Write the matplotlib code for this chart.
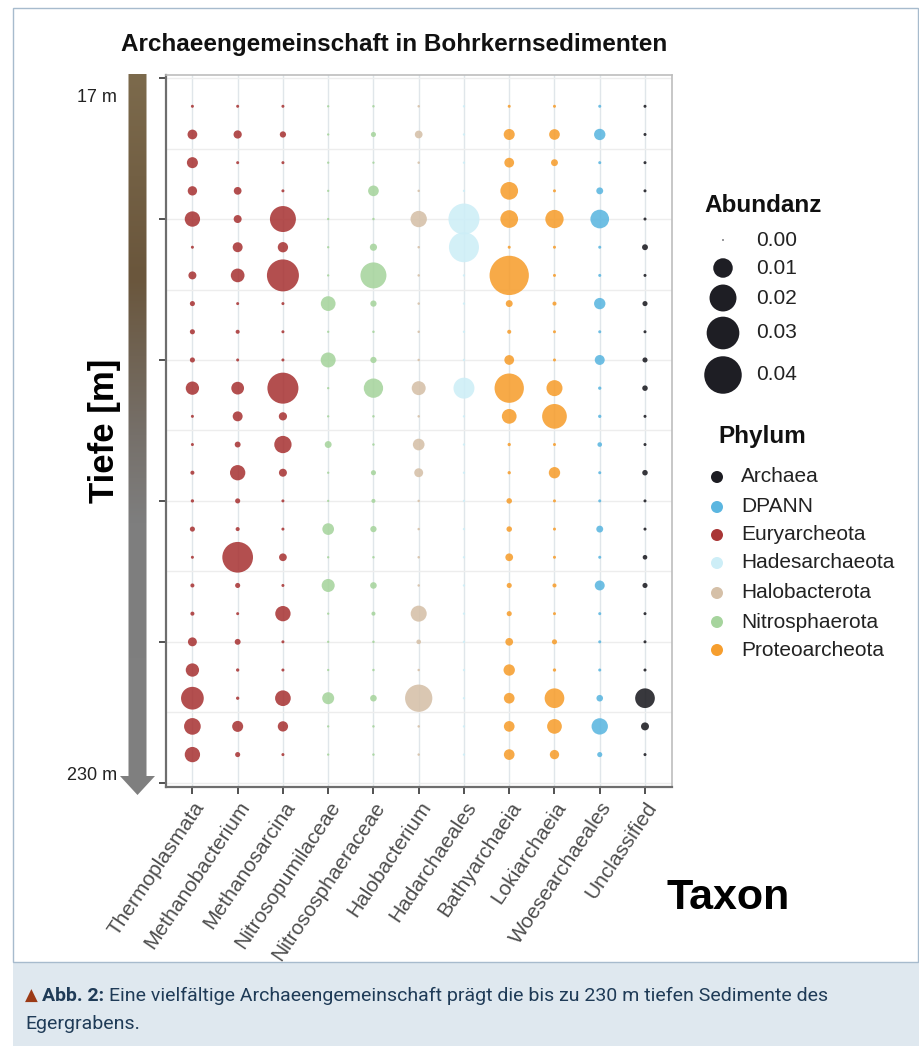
import numpy as np
import matplotlib
matplotlib.use("Agg")
import matplotlib.pyplot as plt
from matplotlib.colors import LinearSegmentedColormap
from matplotlib.patches import Polygon, Rectangle

# ---------------- data ----------------
taxa = ["Thermoplasmata", "Methanobacterium", "Methanosarcina", "Nitrosopumilaceae",
        "Nitrososphaeraceae", "Halobacterium", "Hadarchaeales", "Bathyarchaeia",
        "Lokiarchaeia", "Woesearchaeales", "Unclassified"]
taxon_phylum = ["Euryarcheota", "Euryarcheota", "Euryarcheota", "Nitrosphaerota",
                "Nitrosphaerota", "Halobacterota", "Hadesarchaeota", "Proteoarcheota",
                "Proteoarcheota", "DPANN", "Archaea"]
phyla = ["Archaea", "DPANN", "Euryarcheota", "Hadesarchaeota", "Halobacterota",
         "Nitrosphaerota", "Proteoarcheota"]
phylum_colors = ["#1C1C22", "#5BB6E0", "#A93636", "#CDEEF7", "#D5C0A8", "#A6D49D", "#F69E2E"]

# sample index (1 = 17 m ... 24 = 230 m)
samples = list(range(1, 25))

thermoplasmata = [0.00007, 0.0021, 0.0028, 0.0019, 0.0059, 0.00007, 0.0013, 0.0004,
                  0.0004, 0.0004, 0.0043, 0.00007, 0.00007, 0.0002, 0.0001, 0.0004,
                  0.00007, 0.0002, 0.0002, 0.0017, 0.0043, 0.0139, 0.0071, 0.0059]
methanobacterium = [0.00007, 0.0014, 0.00007, 0.0012, 0.0013, 0.0022, 0.0046, 0.00007,
                    0.0002, 0.00007, 0.0039, 0.0022, 0.0006, 0.0059, 0.0004, 0.0002,
                    0.0263, 0.0004, 0.00007, 0.0006, 0.0001, 0.0001, 0.0028, 0.0004]
methanosarcina = [0.00007, 0.0007, 0.00007, 0.00007, 0.0185, 0.0024, 0.0287, 0.00007,
                  0.00007, 0.00007, 0.0269, 0.0014, 0.0077, 0.0013, 0.00007, 0.00007,
                  0.0012, 0.00007, 0.0059, 0.00007, 0.00007, 0.0062, 0.0024, 0.00007]
nitrosopumilaceae = [0.00002, 0.00002, 0.00002, 0.00002, 0.00002, 0.00002, 0.00002, 0.0054,
                     0.00002, 0.0056, 0.00002, 0.00002, 0.0009, 0.00002, 0.00002, 0.0032,
                     0.00002, 0.0041, 0.00002, 0.00002, 0.00002, 0.0034, 0.00002, 0.00002]
nitrososphaeraceae = [0.00003, 0.0004, 0.00002, 0.0026, 0.00003, 0.0010, 0.0185, 0.0007,
                      0.00003, 0.0007, 0.0098, 0.00003, 0.00003, 0.0004, 0.0002, 0.0007,
                      0.00003, 0.0008, 0.0002, 0.00003, 0.00003, 0.0008, 0.00003, 0.00003]
halobacterium = [0.00003, 0.0012, 0.00003, 0.00003, 0.0068, 0.00003, 0.00003, 0.00003,
                 0.00003, 0.00003, 0.0048, 0.00003, 0.0032, 0.0017, 0.00003, 0.00003,
                 0.00003, 0.00003, 0.0065, 0.0003, 0.00003, 0.0205, 0.00003, 0.00003]
hadarchaeales = [0.00002, 0.00002, 0.00002, 0.00002, 0.0269, 0.0251, 0.00002, 0.00002,
                 0.00002, 0.00002, 0.0117, 0.00002, 0.00002, 0.00002, 0.00002, 0.00002,
                 0.00002, 0.00002, 0.00002, 0.00002, 0.00002, 0.00002, 0.00002, 0.00002]
bathyarchaeia = [0.00007, 0.0028, 0.0021, 0.0081, 0.0081, 0.00007, 0.0441, 0.0009,
                 0.0002, 0.0021, 0.0239, 0.0054, 0.0001, 0.0001, 0.0005, 0.0005,
                 0.0012, 0.0004, 0.0004, 0.0012, 0.0030, 0.0026, 0.0026, 0.0026]
lokiarchaeia = [0.00007, 0.0026, 0.0009, 0.00007, 0.0087, 0.00007, 0.00007, 0.0002,
                0.00007, 0.00007, 0.0065, 0.0166, 0.00007, 0.0030, 0.00007, 0.00007,
                0.00007, 0.0002, 0.00007, 0.0004, 0.0001, 0.0102, 0.0054, 0.0019]
woesearchaeales = [0.00007, 0.0030, 0.00007, 0.0009, 0.0091, 0.00007, 0.00007, 0.0030,
                   0.00007, 0.0022, 0.0001, 0.0001, 0.0003, 0.00007, 0.00007, 0.0009,
                   0.00007, 0.0022, 0.00007, 0.00007, 0.00007, 0.0008, 0.0068, 0.0004]
unclassified = [0.00007, 0.00007, 0.00007, 0.00007, 0.00007, 0.0006, 0.00007, 0.0004,
                0.00007, 0.0004, 0.0005, 0.00007, 0.00007, 0.0005, 0.00007, 0.00007,
                0.0003, 0.0004, 0.00007, 0.00007, 0.00007, 0.0102, 0.0013, 0.00007]

abundance = [thermoplasmata, methanobacterium, methanosarcina, nitrosopumilaceae,
             nitrososphaeraceae, halobacterium, hadarchaeales, bathyarchaeia,
             lokiarchaeia, woesearchaeales, unclassified]

size_breaks = [0.00, 0.01, 0.02, 0.03, 0.04]
size_labels = ["0.00", "0.01", "0.02", "0.03", "0.04"]

# ---------------- helpers ----------------
DPI = 100
W, H = 920, 1046
SANS = "Liberation Sans"


def marker_area(v):
    """Area-proportional size scale: diameter in px -> scatter area in pt^2."""
    d_px = 1.5 + 18.0 * np.sqrt(np.asarray(v, dtype=float) / 0.01)
    return (d_px * 72.0 / DPI) ** 2


color_of = dict(zip(phyla, phylum_colors))

fig = plt.figure(figsize=(W / DPI, H / DPI), dpi=DPI)
fig.patch.set_facecolor("white")

# decoration layer in pixel coordinates
deco = fig.add_axes([0, 0, 1, 1], zorder=0)
deco.set_xlim(0, W)
deco.set_ylim(H, 0)
deco.axis("off")

# figure frame and caption band
deco.add_patch(Rectangle((13, 962), W - 13, H - 962, facecolor="#DFE8EF", edgecolor="none"))
deco.add_patch(Rectangle((13, 8), 905, 954, facecolor="none", edgecolor="#A7BBCD", lw=1.0))

# ---------------- main bubble panel ----------------
L, R, T, B = 165.7, 671.7, 75.0, 787.0
ax = fig.add_axes([L / W, 1 - B / H, (R - L) / W, (B - T) / H], zorder=2)
ax.set_facecolor("white")

for i, (name, vals) in enumerate(zip(taxa, abundance)):
    x = np.full(len(samples), i + 1)
    ax.scatter(x, samples, s=marker_area(vals), color=color_of[taxon_phylum[i]],
               alpha=0.88, linewidths=0, zorder=3)

ax.set_xlim(0.41, 11.59)
ax.set_ylim(25.15, -0.11)
ax.set_xticks(range(1, len(taxa) + 1))
ax.set_xticklabels(taxa, rotation=56, ha="right", va="top", rotation_mode="anchor",
                   fontsize=15, color="#4D4D4D", family=SANS)
ax.set_yticks([0, 5, 10, 15, 20, 25])
ax.set_yticklabels([])
ax.set_yticks([2.5, 7.5, 12.5, 17.5, 22.5], minor=True)
ax.tick_params(axis="x", length=5, width=1.2, color="#333333", pad=3)
ax.tick_params(axis="y", which="major", length=5, width=1.2, color="#333333")
ax.tick_params(axis="y", which="minor", length=0)
ax.grid(axis="x", color="#E0E6EA", lw=1.0, zorder=0)
ax.grid(axis="y", which="both", color="#EDEDED", lw=1.0, zorder=0)
ax.set_axisbelow(True)
for side in ["top", "right"]:
    ax.spines[side].set_color("#BDBDBD")
    ax.spines[side].set_linewidth(1.2)
for side in ["left", "bottom"]:
    ax.spines[side].set_color("#6E6E6E")
    ax.spines[side].set_linewidth(1.6)

# ---------------- title and axis names ----------------
deco.text(394, 44, "Archaeengemeinschaft in Bohrkernsedimenten", ha="center", va="center",
          fontsize=17.5, fontweight="bold", family=SANS, color="#111111")
deco.text(728, 898, "Taxon", ha="center", va="center", fontsize=31, fontweight="bold",
          family=SANS, color="#000000")
deco.text(105, 431, "Tiefe [m]", ha="center", va="center", rotation=90, fontsize=25,
          fontweight="bold", family=SANS, color="#000000")
deco.text(117, 97, "17 m", ha="right", va="center", fontsize=13,
          family=SANS, color="#222222")
deco.text(117, 775, "230 m", ha="right", va="center", fontsize=13,
          family=SANS, color="#222222")

# depth arrow with brown-to-grey gradient
depth_cmap = LinearSegmentedColormap.from_list(
    "depth", [(0.0, "#7C6A4C"), (0.28, "#6A563C"), (0.5, "#76706A"), (0.62, "#7E7E7E"),
              (1.0, "#808080")])
grad = np.linspace(0, 1, 256).reshape(-1, 1)
img = deco.imshow(grad, cmap=depth_cmap, extent=[118, 157, 796, 74], aspect="auto",
                  zorder=1, interpolation="bilinear")
arrow_shape = Polygon([(128.5, 74), (146.5, 74), (146.5, 776), (155, 776), (137.5, 795),
                       (120, 776), (128.5, 776)], closed=True, transform=deco.transData)
img.set_clip_path(arrow_shape)
deco.set_xlim(0, W)
deco.set_ylim(H, 0)

# ---------------- legends ----------------
deco.text(704, 206, "Abundanz", ha="left", va="center", fontsize=17.5, fontweight="bold",
          family=SANS, color="#111111")
size_y = [240, 268, 298, 333, 375]
deco.scatter([723] * len(size_breaks), size_y, s=marker_area(size_breaks), color="#1E1E24",
             linewidths=0, zorder=3)
for yy, lab in zip(size_y, size_labels):
    deco.text(756, yy, lab, ha="left", va="center", fontsize=15,
              family=SANS, color="#222222")

deco.text(718, 437, "Phylum", ha="left", va="center", fontsize=17.5, fontweight="bold",
          family=SANS, color="#111111")
phylum_y = [477, 507, 535, 563, 593, 622, 650]
deco.scatter([717] * len(phyla), phylum_y, s=(12 * 72 / DPI) ** 2, color=phylum_colors,
             linewidths=0, zorder=3)
for yy, lab in zip(phylum_y, phyla):
    deco.text(741, yy, lab, ha="left", va="center", fontsize=15,
              family=SANS, color="#222222")

# ---------------- caption ----------------
cap_font = dict(family=["Roboto", "DejaVu Sans"], fontsize=14, va="center")
renderer = fig.canvas.get_renderer()
deco.text(25, 996, "\u25B2", color="#9B3A16", fontsize=12, va="center",
          family="DejaVu Sans")
bold = deco.text(42, 996, "Abb. 2:", color="#1F3B57", fontweight="bold", **cap_font)
bb = bold.get_window_extent(renderer)
deco.text(bb.x1 + 5, 996, "Eine vielfältige Archaeengemeinschaft prägt die bis zu 230 m "
          "tiefen Sedimente des", color="#1F3B57", **cap_font)
deco.text(25, 1024, "Egergrabens.", color="#1F3B57", **cap_font)

fig.savefig("out.png", dpi=DPI, facecolor="white")
